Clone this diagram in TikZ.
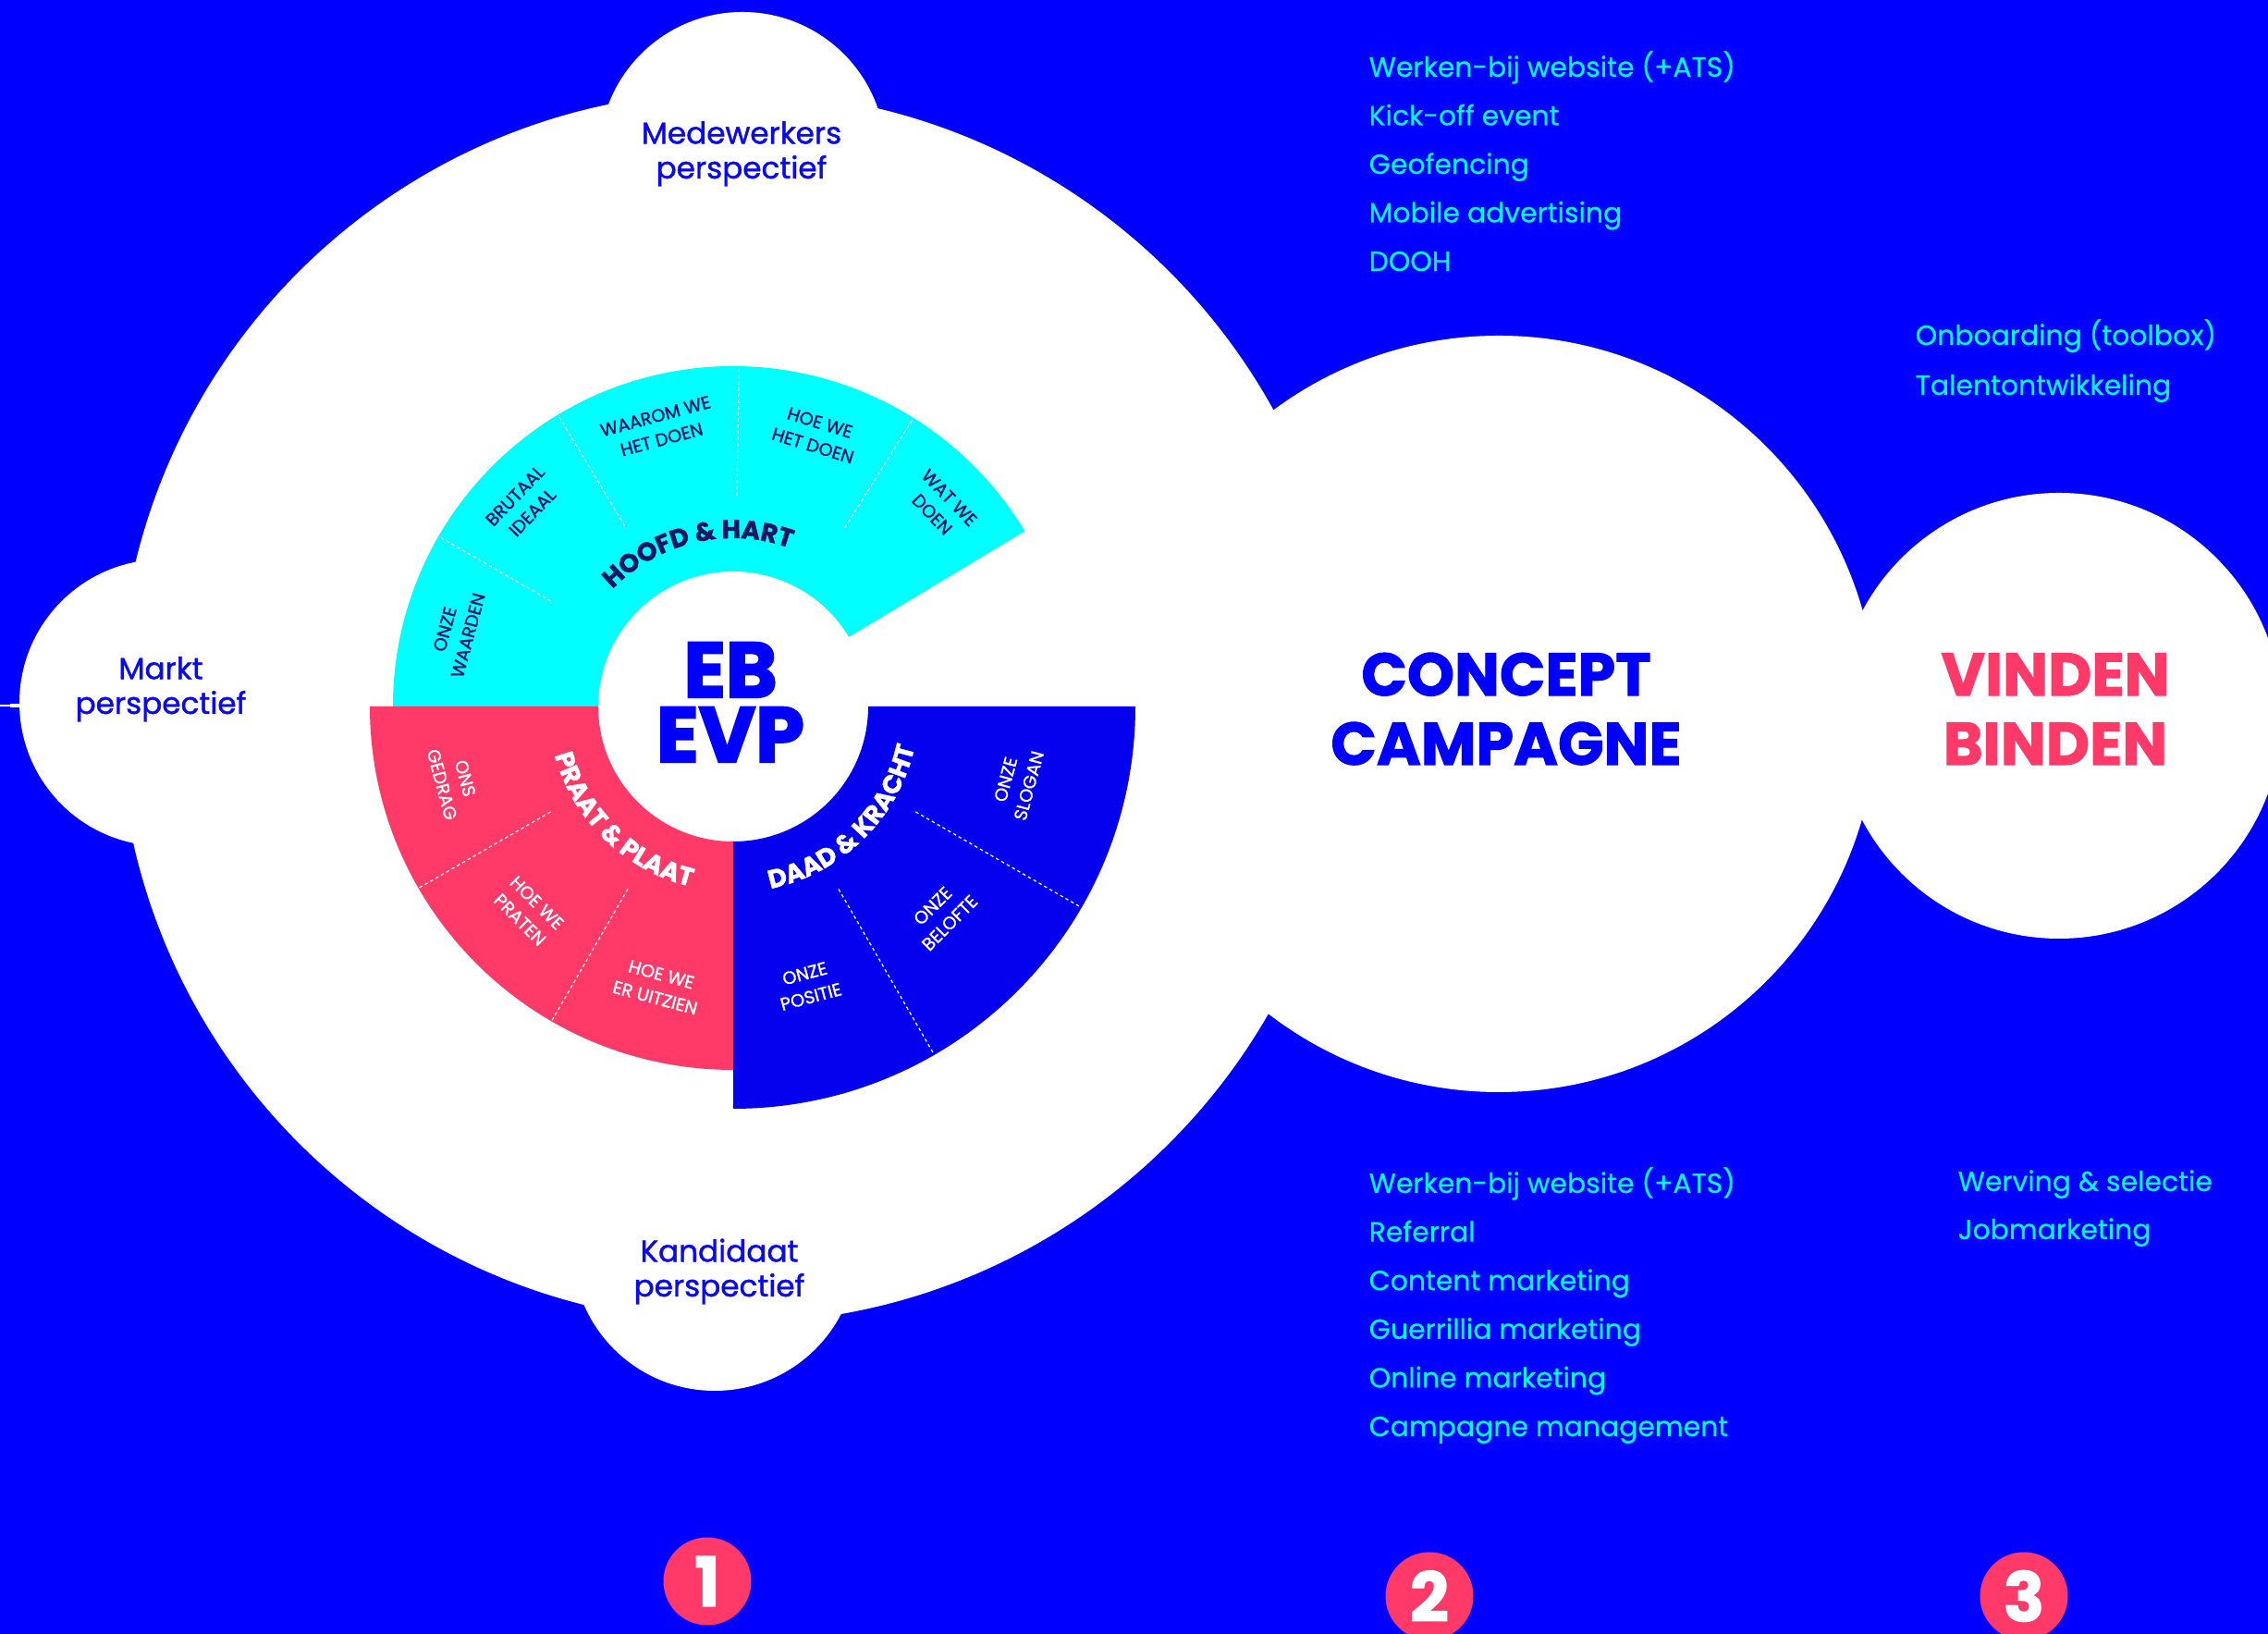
\documentclass[tikz,border=0pt]{standalone}
\usepackage{fontspec}
\setmainfont{Poppins}
\newfontfamily\heavyfont{Poppins}[BoldFeatures={FakeBold=1.6}]
\newfontfamily\blackfont{Poppins}[BoldFeatures={FakeBold=2.6}]
\newfontfamily\mediumfont{Poppins}[UprightFeatures={FakeBold=1.3}]
\newfontfamily\itemfont{Poppins}[UprightFeatures={FakeBold=0.5}]
\usetikzlibrary{decorations.text}

\definecolor{bgblue}{RGB}{0,0,255}
\definecolor{evpcyan}{RGB}{0,255,255}
\definecolor{evppink}{RGB}{255,58,104}
\definecolor{evpblue}{RGB}{5,0,238}
\definecolor{navy}{RGB}{30,22,96}
\definecolor{itemcyan}{RGB}{0,245,235}
\definecolor{labelblue}{RGB}{10,10,235}

\newcommand\titlefont{\heavyfont\bfseries\fontsize{7.9}{8}\selectfont}

\begin{document}
\begin{tikzpicture}[
    persp/.style={font=\mediumfont\fontsize{9.3}{10.7}\selectfont, text=labelblue, align=center, inner sep=0pt, anchor=base},
    item/.style={font=\itemfont\fontsize{8.5}{10}\selectfont, text=itemcyan, inner sep=0pt, anchor=base west},
    seg/.style={font=\mediumfont\fontsize{5.5}{7.4}\selectfont, align=center, inner sep=0pt},
    divider/.style={white, line width=0.35pt, dash pattern=on 1pt off 0.9pt},
    big/.style={font=\heavyfont\bfseries\fontsize{18.5}{21.3}\selectfont, align=center, inner sep=0pt, anchor=base},
    num/.style={circle, fill=evppink, text=white, minimum size=0.95cm, inner sep=0pt, font=\heavyfont\bfseries\fontsize{21}{21}\selectfont}
]
    \clip (0,0) rectangle (24.53,17.67);
    \fill[bgblue] (0,0) rectangle (24.53,17.67);

    % white discs
    \fill[white] (7.94,10.02) circle (6.66);
    \fill[white] (8.03,15.99) circle (1.55);
    \fill[white] (7.73,4.17) circle (1.54);
    \fill[white] (1.76,10.07) circle (1.55);
    \fill[white] (16.21,9.95) circle (4.09);
    \fill[white] (22.27,9.93) circle (2.41);
    \draw[white, line width=0.5pt] (0,10.04) -- (0.22,10.04);
    \fill[white] (0.11,10.02) rectangle (0.21,10.06);

    % the EVP wheel
    \begin{scope}[shift={(7.93,10.03)}]
        \fill[evpcyan] (31:1.46) arc[start angle=31, end angle=180, radius=1.46]
            -- (180:3.68) arc[start angle=180, end angle=31, radius=3.68] -- cycle;
        \fill[evppink] (180:1.46) arc[start angle=180, end angle=270, radius=1.46]
            -- (270:3.93) arc[start angle=270, end angle=180, radius=3.93] -- cycle;
        \fill[evpblue] (270:1.46) arc[start angle=270, end angle=360, radius=1.46]
            -- (0:4.35) arc[start angle=360, end angle=270, radius=4.35] -- cycle;

        \foreach \a in {150,121,89,58} \draw[divider] (\a:2.28) -- (\a:3.68);
        \foreach \a in {210,240} \draw[divider] (\a:2.28) -- (\a:3.93);
        \foreach \a in {300,330} \draw[divider] (\a:2.28) -- (\a:4.35);

        % segment labels
        \node[seg, text=navy, rotate=75] (waarden) at (165:3.10) {ONZE\\WAARDEN};
        \node[seg, text=navy, rotate=46] (ideaal) at (136:3.15) {BRUTAAL\\IDEAAL};
        \node[seg, text=navy, rotate=15] (waarom) at (105:3.12) {WAAROM WE\\HET DOEN};
        \node[seg, text=navy, rotate=-17] (hoe) at (73:3.08) {HOE WE\\HET DOEN};
        \node[seg, text=navy, rotate=-46] (wat) at (44:3.12) {WAT WE\\DOEN};

        \node[seg, text=white, rotate=-75] (gedrag) at (195:3.13) {ONS\\GEDRAG};
        \node[seg, text=white, rotate=-45] (praten) at (225:3.13) {HOE WE\\PRATEN};
        \node[seg, text=white, rotate=-15] (uitzien) at (255:3.13) {HOE WE\\ER UITZIEN};

        \node[seg, text=white, rotate=15] (positie) at (285:3.12) {ONZE\\POSITIE};
        \node[seg, text=white, rotate=45] (belofte) at (315:3.18) {ONZE\\BELOFTE};
        \node[seg, text=white, rotate=75] (slogan) at (345:3.18) {ONZE\\SLOGAN};

        % curved titles
        \path[decorate, decoration={text along path, text align=center, text color=navy,
            text={|\titlefont|HOOFD {\&} HART}}]
            (175:1.82) arc[start angle=175, end angle=31, radius=1.82];
        \path[decorate, decoration={text along path, text align=center, text color=white,
            text={|\titlefont|PRAAT {\&} PLAAT}}]
            (182:2.00) arc[start angle=182, end angle=270, radius=2.00];
        \path[decorate, decoration={text along path, text align=center, text color=white,
            text={|\titlefont|DAAD {\&} KRACHT}}]
            (270:2.01) arc[start angle=270, end angle=359, radius=2.01];
    \end{scope}

    \node[font=\blackfont\bfseries\fontsize{24}{19.9}\selectfont, text=bgblue, align=center, inner sep=0pt, anchor=base] (evp) at (7.90,9.43) {EB\\EVP};

    % perspectives
    \node[persp] (medewerkers) at (8.02,15.74) {Medewerkers\\perspectief};
    \node[persp] (markt) at (1.74,9.95) {Markt\\perspectief};
    \node[persp] (kandidaat) at (7.78,3.65) {Kandidaat\\perspectief};

    \node[big, text=bgblue] (concept) at (16.29,9.40) {CONCEPT\\CAMPAGNE};
    \node[big, text=evppink] (vinden) at (22.23,9.40) {VINDEN\\BINDEN};

    % channel lists
    \foreach \t [count=\i] in {Werken-bij website (+ATS), Kick-off event, Geofencing, Mobile advertising, DOOH}
        \node[item] (top\i) at (14.80,17.365-0.525*\i) {\t};
    \foreach \t [count=\i] in {Onboarding (toolbox), Talentontwikkeling}
        \node[item] (bind\i) at (20.71,14.48-0.54*\i) {\t};
    \foreach \t [count=\i] in {Werken-bij website (+ATS), Referral, Content marketing, Guerrillia marketing, Online marketing, Campagne management}
        \node[item] (bottom\i) at (14.80,5.296-0.526*\i) {\t};
    \foreach \t [count=\i] in {Werving \& selectie, Jobmarketing}
        \node[item] (vind\i) at (21.17,5.31-0.52*\i) {\t};

    % steps
    \node[num] (n1) at (7.65,0.57) {1};
    \node[num] (n2) at (15.46,0.41) {2};
    \node[num] (n3) at (21.89,0.41) {3};
\end{tikzpicture}
\end{document}
